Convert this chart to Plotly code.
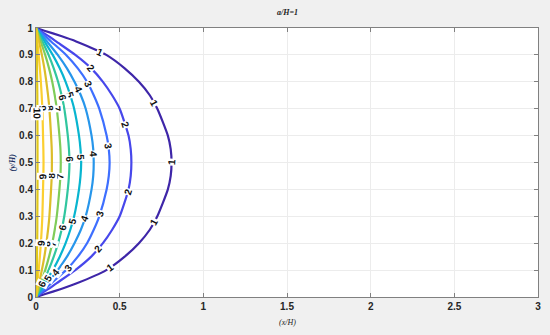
import math
import plotly.graph_objects as go

# y/H sample positions (shared by every contour line)
y_pts = [0, 0.01, 0.03, 0.05, 0.1, 0.15, 0.2, 0.25, 0.3, 0.4, 0.45, 0.5,
         0.55, 0.6, 0.7, 0.75, 0.8, 0.85, 0.9, 0.95, 0.97, 0.99, 1.0]

levels = [1, 2, 3, 4, 5, 6, 7, 8, 9, 10]

# x/H of each contour level at the y_pts above
x_lvl1 = [0, 0.05, 0.15, 0.24, 0.42, 0.53, 0.615, 0.68, 0.725, 0.788, 0.805, 0.81,
          0.805, 0.788, 0.725, 0.68, 0.615, 0.53, 0.42, 0.24, 0.15, 0.05, 0]
x_lvl2 = [0, 0.025, 0.075, 0.12, 0.235, 0.33, 0.40, 0.455, 0.50, 0.553, 0.566, 0.57,
          0.566, 0.553, 0.50, 0.455, 0.40, 0.33, 0.235, 0.12, 0.075, 0.025, 0]
x_lvl3 = [0, 0.018, 0.055, 0.09, 0.18, 0.25, 0.305, 0.345, 0.378, 0.422, 0.435, 0.44,
          0.435, 0.422, 0.378, 0.345, 0.305, 0.25, 0.18, 0.09, 0.055, 0.018, 0]
x_lvl4 = [0, 0.013, 0.04, 0.066, 0.13, 0.185, 0.23, 0.268, 0.297, 0.332, 0.342, 0.345,
          0.342, 0.332, 0.297, 0.268, 0.23, 0.185, 0.13, 0.066, 0.04, 0.013, 0]
x_lvl5 = [0, 0.01, 0.031, 0.051, 0.10, 0.142, 0.177, 0.205, 0.228, 0.257, 0.266, 0.27,
          0.266, 0.257, 0.228, 0.205, 0.177, 0.142, 0.10, 0.051, 0.031, 0.01, 0]
x_lvl6 = [0, 0.008, 0.023, 0.038, 0.075, 0.106, 0.132, 0.153, 0.169, 0.19, 0.197, 0.20,
          0.197, 0.19, 0.169, 0.153, 0.132, 0.106, 0.075, 0.038, 0.023, 0.008, 0]
x_lvl7 = [0, 0.006, 0.017, 0.028, 0.055, 0.078, 0.097, 0.112, 0.124, 0.14, 0.146, 0.148,
          0.146, 0.14, 0.124, 0.112, 0.097, 0.078, 0.055, 0.028, 0.017, 0.006, 0]
x_lvl8 = [0, 0.004, 0.011, 0.018, 0.035, 0.05, 0.062, 0.072, 0.08, 0.09, 0.094, 0.095,
          0.094, 0.09, 0.08, 0.072, 0.062, 0.05, 0.035, 0.018, 0.011, 0.004, 0]
x_lvl9 = [0, 0.002, 0.005, 0.008, 0.016, 0.023, 0.029, 0.034, 0.038, 0.042, 0.044, 0.045,
          0.044, 0.042, 0.038, 0.034, 0.029, 0.023, 0.016, 0.008, 0.005, 0.002, 0]
x_lvl10 = [0, 0.001, 0.002, 0.003, 0.005, 0.006, 0.007, 0.008, 0.008, 0.009, 0.009, 0.009,
           0.009, 0.009, 0.008, 0.008, 0.007, 0.006, 0.005, 0.003, 0.002, 0.001, 0]

x_lines = [x_lvl1, x_lvl2, x_lvl3, x_lvl4, x_lvl5,
           x_lvl6, x_lvl7, x_lvl8, x_lvl9, x_lvl10]

# where the inline level labels sit (y/H) on each line
label_y = [
    [0.91, 0.72, 0.5, 0.28, 0.11],
    [0.85, 0.64, 0.39, 0.18],
    [0.79, 0.56, 0.31, 0.11],
    [0.77, 0.53, 0.29, 0.09],
    [0.75, 0.52, 0.28, 0.07],
    [0.74, 0.51, 0.26, 0.05],
    [0.70, 0.45, 0.2],
    [0.70, 0.45, 0.2],
    [0.70, 0.45, 0.2],
    [0.68],
]

# parula-like colours, one per level
colors = ['#3e26a8', '#4747eb', '#3e6fff', '#2796eb', '#08b5d0',
          '#31c69f', '#80cc59', '#dcbd29', '#fccf30', '#e0c81a']

x_ticks = [0, 0.5, 1, 1.5, 2, 2.5, 3]
y_ticks = [0, 0.1, 0.2, 0.3, 0.4, 0.5, 0.6, 0.7, 0.8, 0.9, 1]

W, H = 550, 335
margin = dict(l=36, r=12, t=28, b=38)
px_per_x = (W - margin['l'] - margin['r']) / 3.0
px_per_y = (H - margin['t'] - margin['b']) / 1.0


def x_at(xs, yv):
    for k in range(len(y_pts) - 1):
        if y_pts[k] <= yv <= y_pts[k + 1]:
            t = (yv - y_pts[k]) / (y_pts[k + 1] - y_pts[k])
            return xs[k] + t * (xs[k + 1] - xs[k]), k
    return xs[-1], len(y_pts) - 2


fig = go.Figure()
annotations = []
for lev, xs, col, ly in zip(levels, x_lines, colors, label_y):
    fig.add_trace(go.Scatter(
        x=xs, y=y_pts, mode='lines',
        line=dict(color=col, width=2.2, shape='spline', smoothing=0.6),
        showlegend=False, hoverinfo='skip'
    ))
    for yv in ly:
        xv, k = x_at(xs, yv)
        dx = (xs[k + 1] - xs[k]) * px_per_x
        dy = (y_pts[k + 1] - y_pts[k]) * px_per_y
        ang = math.degrees(math.atan2(-dy, dx))
        if ang > 90:
            ang -= 180
        if ang < -90:
            ang += 180
        annotations.append(dict(
            x=xv, y=yv, xref='x', yref='y', text=str(lev),
            showarrow=False, textangle=ang, bgcolor='white', borderpad=0,
            font=dict(family='Liberation Sans Narrow, Liberation Sans, Arial',
                      size=10, color='#111111', weight='bold')
        ))

annotations += [
    dict(text='<i><b>a/H=1</b></i>', x=0.5, y=1, xref='paper', yref='paper',
         yanchor='middle', yshift=16, showarrow=False,
         font=dict(family='Liberation Serif, Times New Roman', size=8, color='#222222')),
    dict(text='<i>(x/H)</i>', x=0.5, y=0, xref='paper', yref='paper',
         yanchor='middle', yshift=-25, showarrow=False,
         font=dict(family='Liberation Serif, Times New Roman', size=8, color='#222222')),
    dict(text='<i><b>(y/H)</b></i>', x=0, y=0.5, xref='paper', yref='paper',
         xanchor='center', xshift=-24, textangle=-90, showarrow=False,
         font=dict(family='Liberation Serif, Times New Roman', size=8, color='#203060')),
]

tick_font = dict(family='Liberation Sans Narrow, Liberation Sans, Arial',
                 size=10, color='#262626', weight='bold')

fig.update_layout(
    width=W, height=H, margin=margin,
    paper_bgcolor='#f0f0f0', plot_bgcolor='white',
    annotations=annotations,
    xaxis=dict(range=[0, 3], tickvals=x_ticks, ticktext=[str(t) for t in x_ticks],
               ticks='inside', ticklen=4, tickcolor='#808080', mirror='ticks',
               showline=True, linecolor='#808080', linewidth=1,
               showgrid=True, gridcolor='#ececec', zeroline=False,
               tickfont=tick_font, automargin=False),
    yaxis=dict(range=[0, 1], tickvals=y_ticks, ticktext=[str(t) for t in y_ticks],
               ticks='inside', ticklen=4, tickcolor='#808080', mirror='ticks',
               showline=True, linecolor='#808080', linewidth=1,
               showgrid=True, gridcolor='#ececec', zeroline=False,
               tickfont=tick_font, automargin=False),
)

# drop the browser's default body margin so the figure sits at the page corner
fig.write_html('out.html', config={'displayModeBar': False},
               post_script="document.body.style.margin='0';")
